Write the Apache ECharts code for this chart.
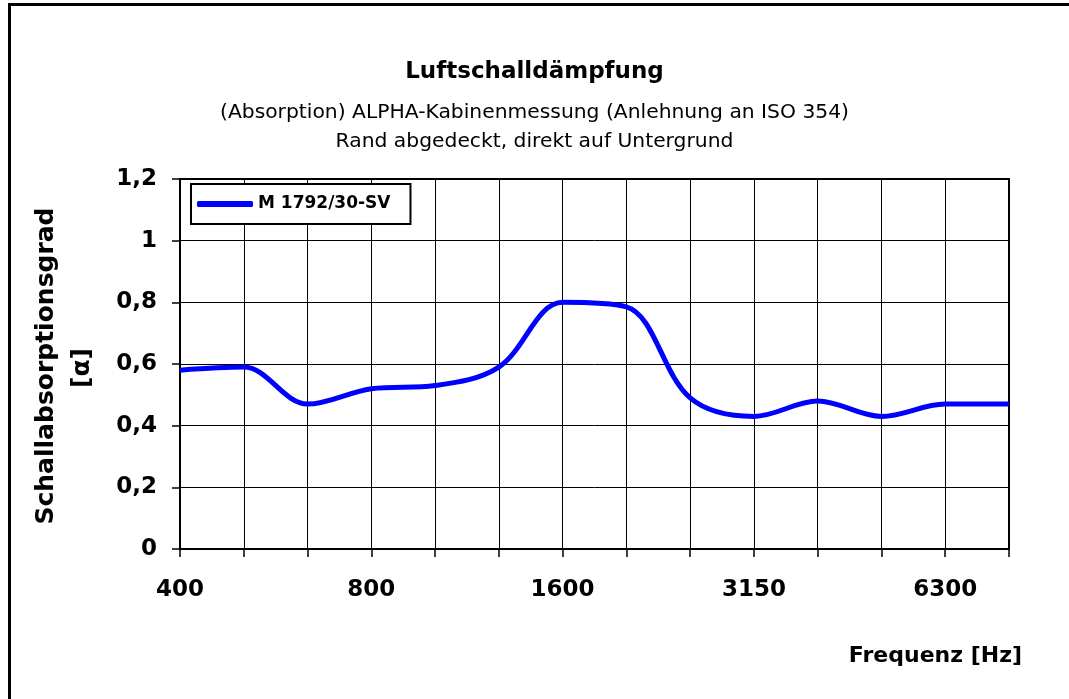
<!DOCTYPE html>
<html>
<head>
<meta charset="utf-8">
<script src="https://cdn.jsdelivr.net/npm/echarts@6/dist/echarts.min.js"></script>
<style>
  html, body { margin: 0; padding: 0; background: #fff; }
  #chart { width: 1069px; height: 699px; }
</style>
</head>
<body>
<div id="chart"></div>
<script>
// third-octave bands, Hz
const frequencies = ['400', '500', '630', '800', '1000', '1250', '1600', '2000', '2500', '3150', '4000', '5000', '6300', '8000'];
// absorption coefficient alpha at each band
const alphaValues = [0.58, 0.59, 0.47, 0.52, 0.53, 0.59, 0.80, 0.785, 0.49, 0.43, 0.48, 0.43, 0.47, 0.47];
const seriesName = 'M 1792/30-SV';

const titleText = 'Luftschalldämpfung';
const subLines = ['(Absorption) ALPHA-Kabinenmessung (Anlehnung an ISO 354)', 'Rand abgedeckt, direkt auf Untergrund'];

const FONT = 'DejaVu Sans';

const chart = echarts.init(document.getElementById('chart'));

chart.setOption({
  backgroundColor: '#fff',
  animation: false,
  title: [
    {
      text: titleText, left: 'center', top: 61, padding: 0,
      textStyle: { fontFamily: FONT, fontSize: 23, fontWeight: 'bold', color: '#000' }
    },
    {
      text: subLines[0], left: 'center', top: 103, padding: 0,
      textStyle: { fontFamily: FONT, fontSize: 20.3, fontWeight: 'normal', color: '#000' }
    },
    {
      text: subLines[1], left: 'center', top: 132, padding: 0,
      textStyle: { fontFamily: FONT, fontSize: 20.3, fontWeight: 'normal', color: '#000' }
    }
  ],
  legend: {
    data: [{ name: seriesName, icon: 'roundRect' }],
    left: 191,
    top: 184,
    orient: 'vertical',
    padding: [10, 20, 10, 6],
    itemWidth: 56,
    itemHeight: 6,
    borderColor: '#000',
    borderWidth: 2,
    backgroundColor: '#fff',
    textStyle: { fontFamily: FONT, fontSize: 17, fontWeight: 'bold', color: '#000', lineHeight: 20 }
  },
  grid: {
    left: 180, right: 60, top: 179, bottom: 150,
    show: true, borderColor: '#000', borderWidth: 2
  },
  xAxis: {
    type: 'category',
    data: frequencies,
    boundaryGap: false,
    axisLine: { lineStyle: { color: '#000', width: 2 } },
    axisTick: { show: true, interval: 0, length: 8, lineStyle: { color: '#000', width: 1.5 } },
    axisLabel: {
      interval: 2, margin: 30,
      fontFamily: FONT, fontSize: 23, fontWeight: 'bold', color: '#000'
    },
    splitLine: { show: true, interval: 0, lineStyle: { color: '#000', width: 1 } }
  },
  yAxis: {
    type: 'value',
    min: 0, max: 1.2, interval: 0.2,
    axisLine: { show: true, lineStyle: { color: '#000', width: 2 } },
    axisTick: { show: true, length: 8, lineStyle: { color: '#000', width: 1.5 } },
    axisLabel: {
      margin: 23,
      fontFamily: FONT, fontSize: 23, fontWeight: 'bold', color: '#000',
      formatter: v => String(Math.round(v * 10) / 10).replace('.', ',')
    },
    splitLine: { show: true, lineStyle: { color: '#000', width: 1 } }
  },
  graphic: [
    {
      type: 'rect', silent: true, z: -1,
      shape: { x: 9.5, y: 4.5, width: 1200, height: 900 },
      style: { fill: null, stroke: '#000', lineWidth: 3 }
    },
    {
      type: 'text', silent: true,
      x: 46, y: 366, rotation: Math.PI / 2,
      style: {
        text: 'Schallabsorptionsgrad', align: 'center', verticalAlign: 'middle',
        font: 'bold 25px "DejaVu Sans"', fill: '#000'
      }
    },
    {
      type: 'text', silent: true,
      x: 82, y: 368, rotation: Math.PI / 2,
      style: {
        text: '[α]', align: 'center', verticalAlign: 'middle',
        font: 'bold 25px "DejaVu Sans"', fill: '#000'
      }
    },
    {
      type: 'text', silent: true,
      x: 1022, y: 656,
      style: {
        text: 'Frequenz [Hz]', align: 'right', verticalAlign: 'middle',
        font: 'bold 22px "DejaVu Sans"', fill: '#000'
      }
    }
  ],
  series: [{
    name: seriesName,
    type: 'line',
    data: alphaValues,
    smooth: 0.35,
    symbol: 'none',
    lineStyle: { color: '#0000ff', width: 5 },
    itemStyle: { color: '#0000ff' }
  }]
});
</script>
</body>
</html>
